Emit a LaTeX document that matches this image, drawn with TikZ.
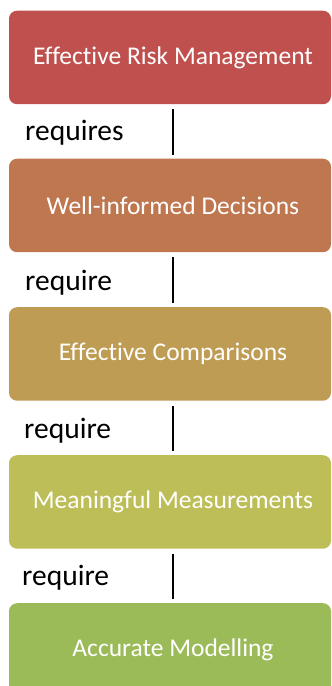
\documentclass[tikz,border=0pt]{standalone}
\usepackage{fontspec}
\setmainfont[Ligatures={NoCommon}]{Carlito}
\begin{document}
\begin{tikzpicture}[x=1pt,y=1pt,
  stage/.style={rounded corners=8pt, minimum width=322pt, minimum height=93.5pt,
    inner sep=0pt, text=white, font=\fontsize{25.5}{30}\selectfont, anchor=north},
  verb/.style={anchor=base west, inner sep=0pt, font=\fontsize{29.5}{35}\selectfont},
  link/.style={line width=2.2pt, shorten <=5pt, shorten >=4pt}]
\definecolor{cRed}{RGB}{192,80,77}
\definecolor{cCopper}{RGB}{191,119,79}
\definecolor{cOchre}{RGB}{191,156,83}
\definecolor{cOlive}{RGB}{189,190,88}
\definecolor{cGreen}{RGB}{155,187,89}
% box captions sit a little right of and below the box centre
\newcommand{\stagetext}[1]{\hspace*{6pt}\raisebox{-3pt}{#1}}
\useasboundingbox (0,0) rectangle (332,-686);
\clip (0,0) rectangle (332,-686);

\node[stage, fill=cRed]    (b1) at (170,-10.5) {\stagetext{Effective Risk Management}};
\node[stage, fill=cCopper] (b2) at (170,-158.5) {\stagetext{Well-informed Decisions}};
\node[stage, fill=cOchre]  (b3) at (170,-307) {\stagetext{Effective Comparisons}};
\node[stage, fill=cOlive]  (b4) at (170,-455) {\stagetext{Meaningful Measurements}};
\node[stage, fill=cGreen]  (b5) at (170,-603) {\stagetext{Accurate Modelling}};

\node[verb] (v1) at (25,-140) {requires};
\node[verb] (v2) at (25,-290) {require};
\node[verb] (v3) at (24,-438) {require};
\node[verb] (v4) at (22,-585) {require};

\draw[link] ([xshift=3pt]b1.south) -- ([xshift=3pt]b2.north);
\draw[link] ([xshift=3pt]b2.south) -- ([xshift=3pt]b3.north);
\draw[link] ([xshift=3pt]b3.south) -- ([xshift=3pt]b4.north);
\draw[link] ([xshift=3pt]b4.south) -- ([xshift=3pt]b5.north);
\end{tikzpicture}
\end{document}
